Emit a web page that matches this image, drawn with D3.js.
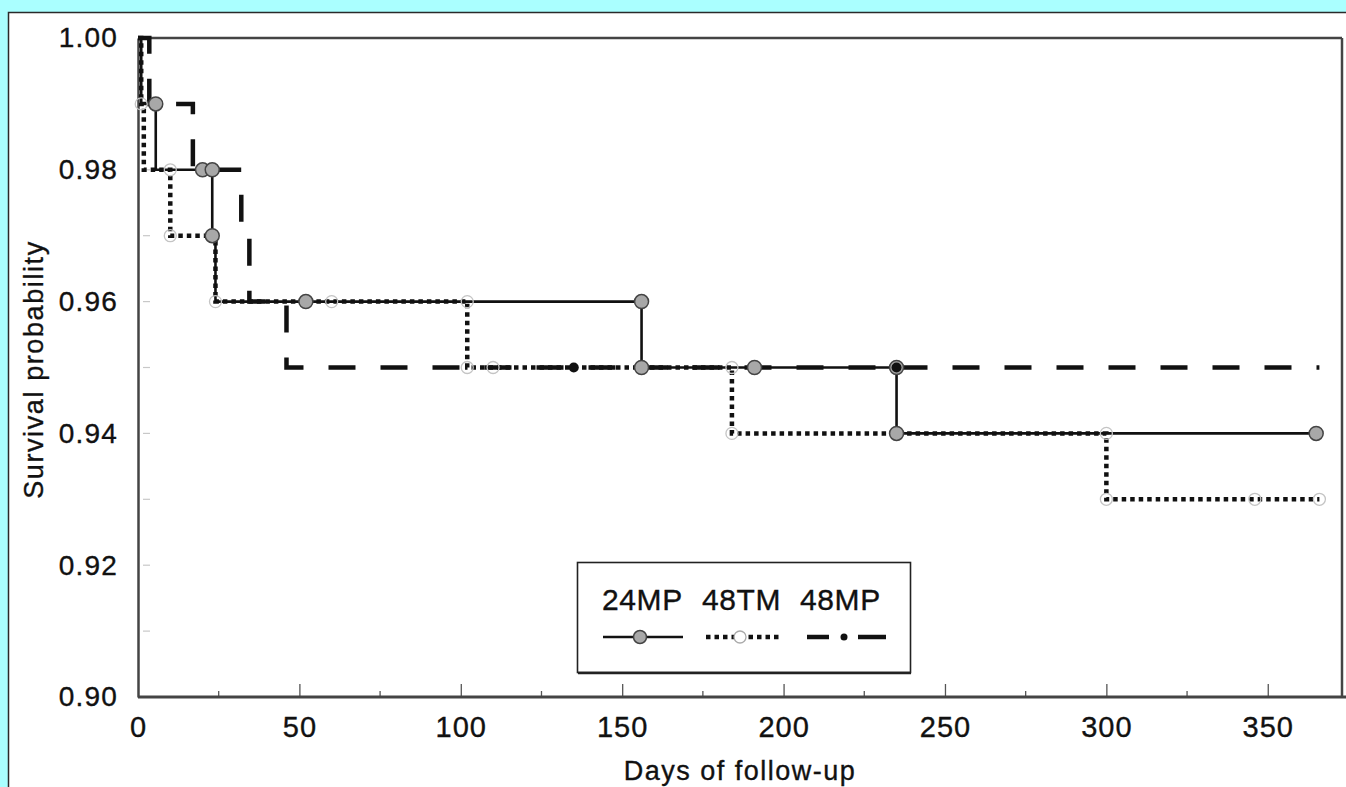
<!DOCTYPE html>
<html>
<head>
<meta charset="utf-8">
<script src="https://cdn.jsdelivr.net/npm/d3@7"></script>
<style>
  html, body { margin: 0; padding: 0; background: #aaffff; }
  svg { display: block; }
  text { font-family: "Liberation Sans", Arial, Helvetica, sans-serif; fill: #111; stroke: #111; stroke-width: 0.35px; }
</style>
</head>
<body>
<svg id="chart" width="1346" height="787"></svg>
<script>
// ---------- data ----------
const seriesNames = ["24MP", "48TM", "48MP"];

// Kaplan–Meier step points (day, survival)
const days24MP = [0, 1, 5.5, 23, 24, 156, 235, 365];
const surv24MP = [1.00, 0.99, 0.98, 0.97, 0.96, 0.95, 0.94, 0.94];

const days48TM = [0, 1, 1.8, 10, 24, 102, 184, 300, 366];
const surv48TM = [1.00, 0.99, 0.98, 0.97, 0.96, 0.95, 0.94, 0.93, 0.93];

const days48MP = [0, 3.5, 17, 32, 34.5, 46, 366];
const surv48MP = [1.00, 0.99, 0.98, 0.97, 0.96, 0.95, 0.95];

// plotted markers
const mk24Days = [5.5, 20, 23, 23, 52, 156, 156, 191, 235, 235, 365];
const mk24Surv = [0.99, 0.98, 0.98, 0.97, 0.96, 0.96, 0.95, 0.95, 0.95, 0.94, 0.94];
const mk48TMDays = [1, 10, 10, 24, 60, 102, 102, 110, 184, 184, 300, 300, 346, 366];
const mk48TMSurv = [0.99, 0.98, 0.97, 0.96, 0.96, 0.96, 0.95, 0.95, 0.95, 0.94, 0.94, 0.93, 0.93, 0.93];
const mk48MPDays = [135, 235];
const mk48MPSurv = [0.95, 0.95];

const xTicks = [0, 50, 100, 150, 200, 250, 300, 350];
const xMinorTicks = [25, 75, 125, 175, 225, 275, 325];
const yTicks = [0.90, 0.92, 0.94, 0.96, 0.98, 1.00];
const yMinorTicks = [0.91, 0.93, 0.95, 0.97, 0.99];

const xTitle = "Days of follow-up";
const yTitle = "Survival probability";

// ---------- layout ----------
const svg = d3.select("#chart");
const L = 138, R = 1342, T = 38, B = 697;

const x = d3.scaleLinear().domain([0, 373]).range([L, R]);
const y = d3.scaleLinear().domain([0.90, 1.00]).range([B, T]);

// white panel
svg.append("rect")
  .attr("x", 8.5).attr("y", 12.5).attr("width", 1400).attr("height", 900)
  .attr("fill", "#ffffff").attr("stroke", "#2a2a2a").attr("stroke-width", 1.5);

// frame
const frame = svg.append("g").attr("stroke", "#444").attr("stroke-width", 2.5).attr("fill", "none");
frame.append("line").attr("x1", L).attr("x2", R).attr("y1", T).attr("y2", T);
frame.append("line").attr("x1", R).attr("x2", R).attr("y1", T).attr("y2", B);

// y axis
const yAxis = d3.axisLeft(y).tickValues(yTicks).tickFormat(d3.format(".2f"))
  .tickSizeInner(0).tickSizeOuter(0).tickPadding(20);
const gy = svg.append("g").attr("transform", `translate(${L},0)`).call(yAxis);
gy.select(".domain").attr("stroke", "#444").attr("stroke-width", 2.5);
gy.selectAll("text").attr("font-size", 28).attr("letter-spacing", "1.2px").attr("fill", "#111");

// y minor ticks (faint, inside)
svg.append("g").selectAll("line").data(yTicks.concat(yMinorTicks).filter(d => d > 0.901 && d < 0.999))
  .join("line")
  .attr("x1", L + 5).attr("x2", L + 12)
  .attr("y1", d => y(d)).attr("y2", d => y(d))
  .attr("stroke", "#c8c8c8").attr("stroke-width", 1.2);

// x axis
const xAxis = d3.axisBottom(x).tickValues(xTicks).tickFormat(d3.format("d"))
  .tickSizeInner(-13).tickSizeOuter(0).tickPadding(19);
const gx = svg.append("g").attr("transform", `translate(0,${B})`).call(xAxis);
gx.select(".domain").remove();
gx.selectAll(".tick line").attr("stroke", "#555").attr("stroke-width", 1.3);
gx.selectAll("text").attr("font-size", 29).attr("letter-spacing", "1px").attr("fill", "#111");
gx.selectAll(".tick").filter(d => d === 0).select("line").remove();

// x minor ticks
svg.append("g").selectAll("line").data(xMinorTicks).join("line")
  .attr("x1", d => x(d)).attr("x2", d => x(d))
  .attr("y1", B).attr("y2", B - 6)
  .attr("stroke", "#555").attr("stroke-width", 1.3);

// bottom axis line
svg.append("line").attr("x1", L).attr("x2", 1346).attr("y1", B).attr("y2", B)
  .attr("stroke", "#444").attr("stroke-width", 3);

// axis titles
svg.append("text").attr("x", (x(0) + x(373)) / 2).attr("y", 780)
  .attr("text-anchor", "middle").attr("font-size", 27).attr("letter-spacing", "1.5px")
  .text(xTitle);
svg.append("text").attr("transform", `translate(43,${(T + B) / 2 + 2}) rotate(-90)`)
  .attr("text-anchor", "middle").attr("font-size", 27).attr("letter-spacing", "1.6px")
  .text(yTitle);

// ---------- curves ----------
const step = d3.line().x(d => x(d[0])).y(d => y(d[1])).curve(d3.curveStepAfter);
const zip = (a, b) => a.map((v, i) => [v, b[i]]);

svg.append("path").datum(zip(days24MP, surv24MP)).attr("d", step)
  .attr("fill", "none").attr("stroke", "#111").attr("stroke-width", 2.6);

svg.append("path").datum(zip(days48TM, surv48TM)).attr("d", step)
  .attr("fill", "none").attr("stroke", "#111").attr("stroke-width", 4.5)
  .attr("stroke-dasharray", "4.5 4");

svg.append("path").datum(zip(days48MP, surv48MP)).attr("d", step)
  .attr("fill", "none").attr("stroke", "#111").attr("stroke-width", 4.5)
  .attr("stroke-dasharray", "27 25");

// markers
svg.append("g").selectAll("circle").data(zip(mk48TMDays, mk48TMSurv)).join("circle")
  .attr("cx", d => x(d[0])).attr("cy", d => y(d[1])).attr("r", 6)
  .attr("fill", "none").attr("stroke", "#c4c4c4").attr("stroke-width", 1.3);

svg.append("g").selectAll("circle").data(zip(mk24Days, mk24Surv)).join("circle")
  .attr("cx", d => x(d[0])).attr("cy", d => y(d[1])).attr("r", 7)
  .attr("fill", "#a8a8a8").attr("stroke", "#444").attr("stroke-width", 1.5);

svg.append("g").selectAll("circle").data(zip(mk48MPDays, mk48MPSurv)).join("circle")
  .attr("cx", d => x(d[0])).attr("cy", d => y(d[1])).attr("r", 5)
  .attr("fill", "#111");

// ---------- legend ----------
const lg = svg.append("g");
lg.append("rect").attr("x", 577.5).attr("y", 562.5).attr("width", 333).attr("height", 110)
  .attr("fill", "#fff").attr("stroke", "#222").attr("stroke-width", 1.6);
lg.append("line").attr("x1", 578).attr("x2", 911).attr("y1", 673).attr("y2", 673)
  .attr("stroke", "#222").attr("stroke-width", 2.5);

const legX = [602, 702, 800];
lg.selectAll("text").data(seriesNames).join("text")
  .attr("x", (d, i) => legX[i]).attr("y", 610)
  .attr("font-size", 30).attr("letter-spacing", "0.6px")
  .text(d => d);

const legY = 637;
// 24MP sample
lg.append("line").attr("x1", 603).attr("x2", 683).attr("y1", legY).attr("y2", legY)
  .attr("stroke", "#111").attr("stroke-width", 2.4);
lg.append("circle").attr("cx", 640).attr("cy", legY).attr("r", 6.5)
  .attr("fill", "#a8a8a8").attr("stroke", "#444").attr("stroke-width", 1.5);
// 48TM sample
lg.append("line").attr("x1", 706).attr("x2", 782).attr("y1", legY).attr("y2", legY)
  .attr("stroke", "#111").attr("stroke-width", 4.5).attr("stroke-dasharray", "4.5 4");
lg.append("circle").attr("cx", 740).attr("cy", legY).attr("r", 6)
  .attr("fill", "#fff").attr("stroke", "#aaa").attr("stroke-width", 1.3);
// 48MP sample
lg.append("line").attr("x1", 807).attr("x2", 829).attr("y1", legY).attr("y2", legY)
  .attr("stroke", "#111").attr("stroke-width", 4.5);
lg.append("circle").attr("cx", 844).attr("cy", legY).attr("r", 3.5).attr("fill", "#111");
lg.append("line").attr("x1", 858).attr("x2", 886).attr("y1", legY).attr("y2", legY)
  .attr("stroke", "#111").attr("stroke-width", 4.5);
</script>
</body>
</html>
